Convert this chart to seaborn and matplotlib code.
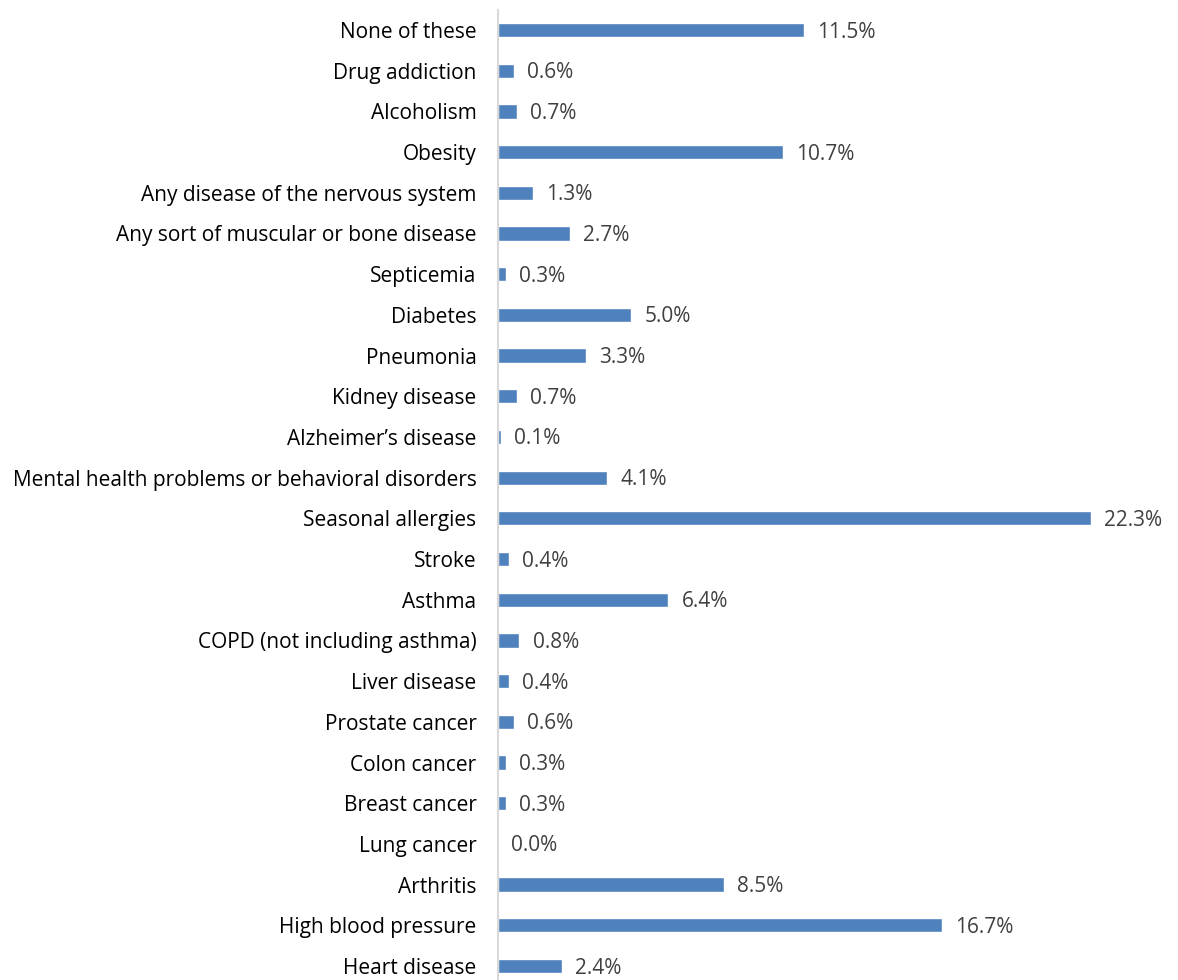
import matplotlib
matplotlib.use("Agg")
import matplotlib.pyplot as plt
import seaborn as sns
import pandas as pd

categories = [
    "None of these", "Drug addiction", "Alcoholism", "Obesity",
    "Any disease of the nervous system", "Any sort of muscular or bone disease",
    "Septicemia", "Diabetes", "Pneumonia", "Kidney disease",
    "Alzheimer\u2019s disease", "Mental health problems or behavioral disorders",
    "Seasonal allergies", "Stroke", "Asthma", "COPD (not including asthma)",
    "Liver disease", "Prostate cancer", "Colon cancer", "Breast cancer",
    "Lung cancer", "Arthritis", "High blood pressure", "Heart disease",
]
values = [11.5, 0.6, 0.7, 10.7, 1.3, 2.7, 0.3, 5.0, 3.3, 0.7, 0.1, 4.1,
          22.3, 0.4, 6.4, 0.8, 0.4, 0.6, 0.3, 0.3, 0.0, 8.5, 16.7, 2.4]

df = pd.DataFrame({"category": categories, "value": values})

sns.set_theme(style="white")
plt.rcParams["font.family"] = ["Open Sans", "DejaVu Sans"]

W, H = 1178, 980
fig = plt.figure(figsize=(W / 100, H / 100), dpi=100)
ax = fig.add_axes([498 / W, -6.35 / H, 665 / W, 976.7 / H])

sns.barplot(data=df, x="value", y="category", orient="h", color="#4f81bd",
            width=0.35, saturation=1, ax=ax)

ax.set_xlim(0, 25)
ax.set_xlabel("")
ax.set_ylabel("")
ax.set_xticks([])
for s in ["top", "right", "bottom"]:
    ax.spines[s].set_visible(False)
ax.spines["left"].set_color("#d9d9d9")
ax.spines["left"].set_linewidth(1.5)
ax.tick_params(axis="y", length=0, pad=15.5, labelsize=15, labelcolor="#000000")

for i, v in enumerate(values):
    ax.text(v + 0.5, i + 0.05, f"{v:.1f}%", va="center", ha="left",
            fontsize=15, color="#404040")

fig.savefig("out.png", dpi=100)
